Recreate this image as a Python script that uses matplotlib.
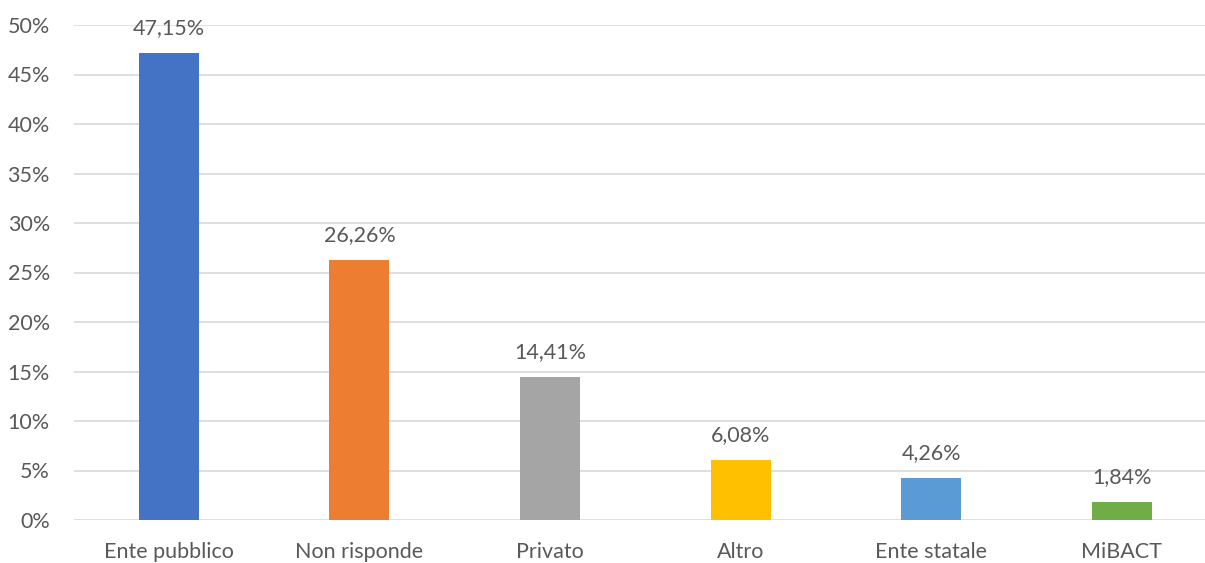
import matplotlib
matplotlib.use("Agg")
import matplotlib.pyplot as plt
from matplotlib.ticker import MultipleLocator, FuncFormatter

categories = ["Ente pubblico", "Non risponde", "Privato", "Altro", "Ente statale", "MiBACT"]
values = [47.15, 26.26, 14.41, 6.08, 4.26, 1.84]
colors = ["#4472C4", "#ED7D31", "#A5A5A5", "#FFC000", "#5B9BD5", "#70AD47"]

plt.rcParams['font.family'] = ['Lato', 'DejaVu Sans']
txt = "#595959"

W, H = 1205, 563
fig = plt.figure(figsize=(W / 100, H / 100), dpi=100)
left, right = 73.5, 1205
bottom, top = 520, 25
ax = fig.add_axes([left / W, (H - bottom) / H, (right - left) / W, (bottom - top) / H])

x = list(range(len(categories)))
ax.bar(x, values, width=0.315, color=colors, zorder=3)
for xi, v in zip(x, values):
    ax.text(xi, v + 1.5, f"{v:.2f}%".replace(".", ","), ha="center", va="bottom",
            fontsize=15.5, color=txt, clip_on=False)

ax.set_xlim(-0.5, -0.5 + (right - left) / 190.6)
ax.set_ylim(0, 50)
ax.yaxis.set_major_locator(MultipleLocator(5))
ax.yaxis.set_major_formatter(FuncFormatter(lambda v, p: f"{int(round(v))}%"))
ax.set_xticks(x)
ax.set_xticklabels(categories)
ax.tick_params(axis="both", length=0, labelsize=15.5, colors=txt)
ax.tick_params(axis="x", pad=16)
ax.tick_params(axis="y", pad=17)
ax.grid(axis="y", color="#D9D9D9", linewidth=1.2, zorder=0)
for s in ax.spines.values():
    s.set_visible(False)

fig.savefig("out.png", dpi=100)
